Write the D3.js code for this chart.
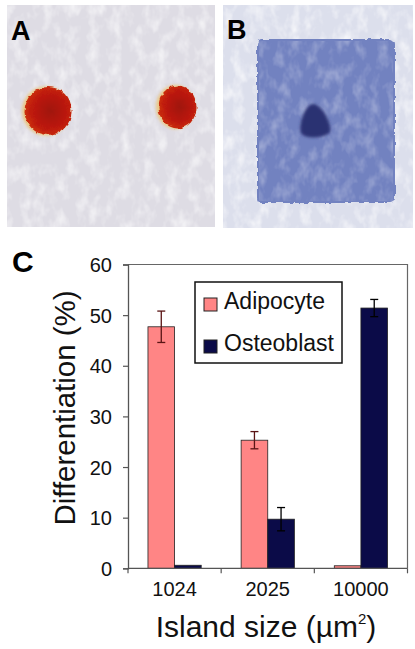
<!DOCTYPE html>
<html>
<head>
<meta charset="utf-8">
<script src="https://cdn.jsdelivr.net/npm/d3@7"></script>
<style>
  body { margin: 0; background: #fff; }
  svg { display: block; font-family: "Liberation Sans", Arial, sans-serif; }
</style>
</head>
<body>
<svg id="fig" width="415" height="649"></svg>
<script>
// chart data (panel C)
var categories = ["1024", "2025", "10000"];
var series = ["Adipocyte", "Osteoblast"];
var adipocyte = [47.7, 25.3, 0.5];
var adipocyteErr = [3.1, 1.7, 0];
var osteoblast = [0.6, 9.7, 51.4];
var osteoblastErr = [0, 2.3, 1.7];
var yTicks = [0, 10, 20, 30, 40, 50, 60];

var colors = {"Adipocyte": "#ff8585", "Osteoblast": "#0b0b48"};
var errColors = {"Adipocyte": "#5a1414", "Osteoblast": "#000"};

var svg = d3.select("#fig");
svg.append("rect").attr("width", 415).attr("height", 649).attr("fill", "#fff");

var defs = svg.append("defs");

// grainy texture for the micrographs
var grain = defs.append("filter").attr("id", "grain").attr("x", 0).attr("y", 0).attr("width", 1).attr("height", 1);
grain.append("feTurbulence").attr("type", "fractalNoise").attr("baseFrequency", "0.09 0.06").attr("numOctaves", 3).attr("seed", 4).attr("result", "n");
grain.append("feColorMatrix").attr("in", "n").attr("type", "matrix")
  .attr("values", "0 0 0 0 1  0 0 0 0 1  0 0 0 0 1  0 0 0 -2.2 1.25").attr("result", "w");
grain.append("feComposite").attr("in", "w").attr("in2", "SourceGraphic").attr("operator", "in");

var rough = defs.append("filter").attr("id", "rough").attr("x", -0.1).attr("y", -0.1).attr("width", 1.2).attr("height", 1.2);
rough.append("feTurbulence").attr("type", "fractalNoise").attr("baseFrequency", 0.18).attr("numOctaves", 2).attr("seed", 7).attr("result", "t");
rough.append("feDisplacementMap").attr("in", "SourceGraphic").attr("in2", "t").attr("scale", 4)
  .attr("xChannelSelector", "R").attr("yChannelSelector", "G");

var soft = defs.append("filter").attr("id", "soft");
soft.append("feGaussianBlur").attr("stdDeviation", 1.6);

var redGrad = defs.append("radialGradient").attr("id", "cell").attr("cx", "55%").attr("cy", "50%").attr("r", "55%");
redGrad.append("stop").attr("offset", "0%").attr("stop-color", "#a0120a");
redGrad.append("stop").attr("offset", "70%").attr("stop-color", "#be1a08");
redGrad.append("stop").attr("offset", "100%").attr("stop-color", "#cc300a");

// ---- panel A
var pA = svg.append("g");
pA.append("rect").attr("x", 7).attr("y", 5).attr("width", 208).attr("height", 222).attr("fill", "#dedce4");
pA.append("rect").attr("x", 7).attr("y", 5).attr("width", 208).attr("height", 222).attr("fill", "#ecebf0").attr("filter", "url(#grain)").attr("opacity", 0.6);
var cells = [{cx: 48, cy: 111, rx: 23.5, ry: 24}, {cx: 177.5, cy: 107, rx: 19, ry: 21.5}];
pA.selectAll(".rim").data(cells).enter().append("ellipse")
  .attr("cx", d => d.cx - 2).attr("cy", d => d.cy)
  .attr("rx", d => d.rx + 0.5).attr("ry", d => d.ry + 0.5)
  .attr("fill", "#efc060").attr("filter", "url(#soft)").attr("opacity", 0.7);
pA.selectAll(".cell").data(cells).enter().append("ellipse")
  .attr("cx", d => d.cx).attr("cy", d => d.cy)
  .attr("rx", d => d.rx).attr("ry", d => d.ry)
  .attr("fill", "url(#cell)").attr("filter", "url(#rough)");
pA.append("text").attr("x", 11).attr("y", 40).attr("font-size", 27).attr("font-weight", "bold").attr("fill", "#000").text("A");

// ---- panel B
var pB = svg.append("g");
pB.append("rect").attr("x", 223).attr("y", 5).attr("width", 190).attr("height", 223).attr("fill", "#dcdfec");
pB.append("rect").attr("x", 223).attr("y", 5).attr("width", 190).attr("height", 223).attr("fill", "#f2f2f7").attr("filter", "url(#grain)").attr("opacity", 0.7);
pB.append("rect").attr("x", 257).attr("y", 39).attr("width", 138).attr("height", 164).attr("rx", 5)
  .attr("fill", "#7282c0").attr("filter", "url(#rough)");
pB.append("rect").attr("x", 259).attr("y", 41).attr("width", 134).attr("height", 160)
  .attr("fill", "#8898d0").attr("filter", "url(#grain)").attr("opacity", 0.3);
pB.append("path").attr("d", "M313,104 C322,104 332,124 330,132 C326,138 305,140 301,133 C298,125 305,104 313,104 Z")
  .attr("fill", "#2a3072").attr("filter", "url(#soft)");
pB.append("text").attr("x", 227).attr("y", 39).attr("font-size", 27).attr("font-weight", "bold").attr("fill", "#000").text("B");

// ---- panel C
svg.append("text").attr("x", 12).attr("y", 272).attr("font-size", 30).attr("font-weight", "bold").attr("fill", "#000").text("C");

var plotLeft = 128, plotRight = 407.5, plotTop = 264.5, plotBottom = 568.3;

var x = d3.scaleBand().domain(categories).range([plotLeft, plotRight]).paddingInner(0).paddingOuter(0);
var xs = d3.scaleBand().domain(series).range([0, x.bandwidth()]).paddingInner(0).paddingOuter(0.75);
var y = d3.scaleLinear().domain([0, 60]).range([plotBottom, plotTop]);

var rows = [];
categories.forEach(function(c, i) {
  rows.push({cat: c, s: "Adipocyte", v: adipocyte[i], e: adipocyteErr[i]});
  rows.push({cat: c, s: "Osteoblast", v: osteoblast[i], e: osteoblastErr[i]});
});

// frame
svg.append("path").attr("d", "M" + plotLeft + "," + plotTop + "H" + plotRight + "V" + plotBottom)
  .attr("fill", "none").attr("stroke", "#666").attr("stroke-width", 1.2);

svg.append("g").selectAll("rect").data(rows).enter().append("rect")
  .attr("x", d => x(d.cat) + xs(d.s))
  .attr("width", xs.bandwidth())
  .attr("y", d => y(d.v))
  .attr("height", d => y(0) - y(d.v))
  .attr("fill", d => colors[d.s])
  .attr("stroke", "#222").attr("stroke-width", 0.8);

var eb = svg.append("g").selectAll("g").data(rows.filter(d => d.e > 0)).enter().append("g")
  .attr("stroke", d => errColors[d.s]).attr("stroke-width", 1.3);
eb.append("line")
  .attr("x1", d => x(d.cat) + xs(d.s) + xs.bandwidth() / 2).attr("x2", d => x(d.cat) + xs(d.s) + xs.bandwidth() / 2)
  .attr("y1", d => y(d.v + d.e)).attr("y2", d => y(d.v - d.e));
eb.append("line")
  .attr("x1", d => x(d.cat) + xs(d.s) + xs.bandwidth() / 2 - 4).attr("x2", d => x(d.cat) + xs(d.s) + xs.bandwidth() / 2 + 4)
  .attr("y1", d => y(d.v + d.e)).attr("y2", d => y(d.v + d.e));
eb.append("line")
  .attr("x1", d => x(d.cat) + xs(d.s) + xs.bandwidth() / 2 - 4).attr("x2", d => x(d.cat) + xs(d.s) + xs.bandwidth() / 2 + 4)
  .attr("y1", d => y(d.v - d.e)).attr("y2", d => y(d.v - d.e));

// y axis
var yAxis = svg.append("g").attr("transform", "translate(" + plotLeft + ",0)")
  .call(d3.axisLeft(y).tickValues(yTicks).tickSize(5).tickPadding(11));
yAxis.select(".domain").attr("stroke", "#555").attr("stroke-width", 1.3);
yAxis.selectAll(".tick line").attr("stroke", "#555").attr("stroke-width", 1.2);
yAxis.selectAll("text").attr("font-size", 20).attr("font-family", "Liberation Sans, Arial").attr("fill", "#111").attr("dy", "0.36em");

// x axis: ticks at category boundaries
var xAxisG = svg.append("g").attr("transform", "translate(0," + plotBottom + ")");
xAxisG.append("line").attr("x1", plotLeft).attr("x2", plotRight).attr("stroke", "#555").attr("stroke-width", 1.3);
var bounds = categories.map(c => x(c)).concat([plotRight]);
xAxisG.selectAll(".xt").data(bounds).enter().append("line")
  .attr("x1", d => d).attr("x2", d => d).attr("y1", 0).attr("y2", 5)
  .attr("stroke", "#555").attr("stroke-width", 1.2);
xAxisG.selectAll(".xl").data(categories).enter().append("text")
  .attr("x", d => x(d) + x.bandwidth() / 2).attr("y", 28)
  .attr("text-anchor", "middle").attr("font-size", 20).attr("fill", "#111").text(d => d);

// axis titles
svg.append("text").attr("transform", "translate(75,408) rotate(-90)")
  .attr("text-anchor", "middle").attr("font-size", 30).attr("fill", "#111")
  .attr("textLength", 235).attr("lengthAdjust", "spacingAndGlyphs")
  .text("Differentiation (%)");

var xt = svg.append("text").attr("x", 266).attr("y", 637).attr("text-anchor", "middle").attr("font-size", 30).attr("fill", "#111");
xt.append("tspan").text("Island size (\u00b5m");
xt.append("tspan").attr("font-size", 15).attr("dy", -13).text("2");
xt.append("tspan").attr("dy", 13).text(")");

// legend
var lg = svg.append("g").attr("transform", "translate(195,282)");
lg.append("rect").attr("width", 147).attr("height", 81).attr("fill", "#fff").attr("stroke", "#111").attr("stroke-width", 1.5);
var li = lg.selectAll(".li").data(series).enter().append("g")
  .attr("transform", (d, i) => "translate(9," + (16 + i * 42) + ")");
li.append("rect").attr("width", 13).attr("height", 13).attr("fill", d => colors[d]).attr("stroke", "#222").attr("stroke-width", 1);
li.append("text").attr("x", 20).attr("y", 11).attr("font-size", 23).attr("fill", "#111").text(d => d);
</script>
</body>
</html>
